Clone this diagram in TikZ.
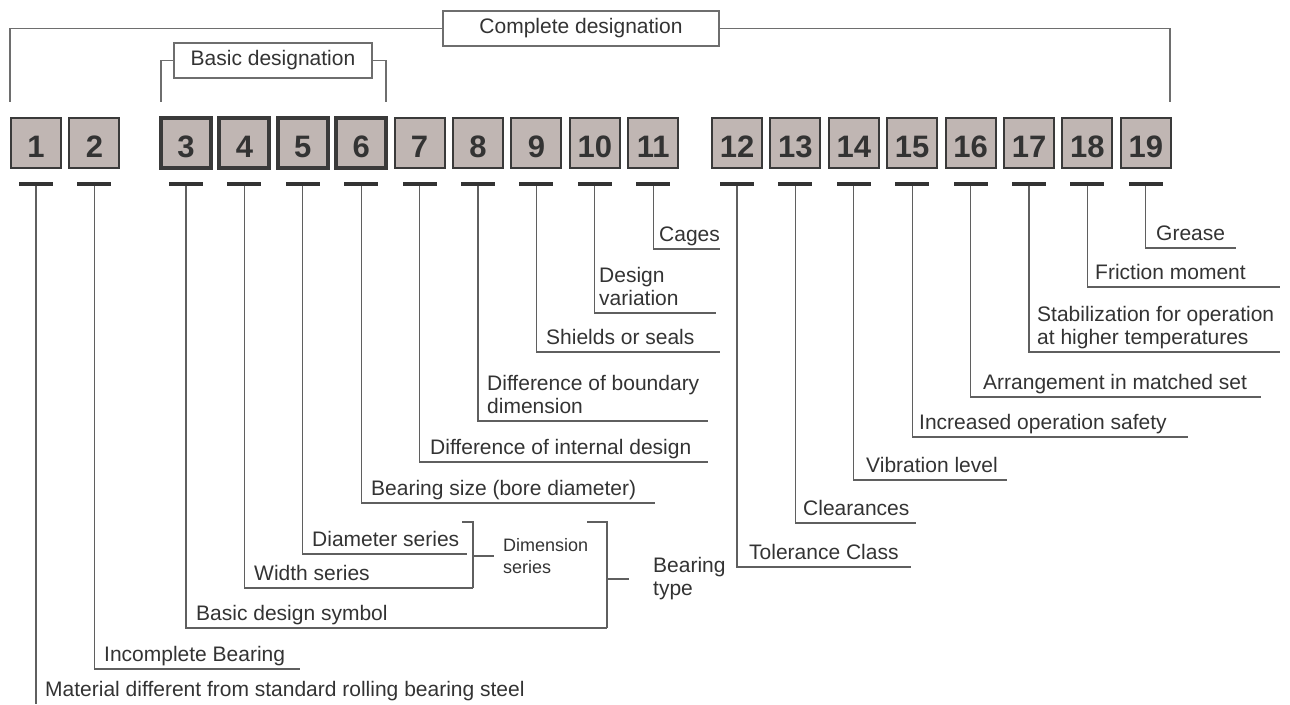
\documentclass[tikz,border=0pt]{standalone}
\usepackage{fontspec}
\setmainfont{Liberation Sans}
\definecolor{txt}{RGB}{51,51,51}
\definecolor{boxfill}{RGB}{192,182,179}
\definecolor{boxline}{RGB}{58,58,58}
\definecolor{tickc}{RGB}{51,51,51}
\definecolor{leadc}{RGB}{95,95,95}
\definecolor{brkc}{RGB}{110,110,110}
\begin{document}
\begin{tikzpicture}[x=1pt,y=-1pt,
  numbox/.style={draw=boxline, fill=boxfill, line width=2pt, minimum width=50pt, minimum height=50pt, inner sep=0pt, text=txt, font=\fontsize{31}{31}\selectfont\bfseries, text height=28pt, text depth=0pt},
  numboxthick/.style={numbox, line width=4pt},
  tickbar/.style={fill=tickc, minimum width=34pt, minimum height=3.5pt, inner sep=0pt, outer sep=0pt},
  lead/.style={draw=leadc, line width=1.2pt},
  brk/.style={draw=brkc, line width=1.5pt},
  titlebox/.style={draw=brkc, line width=1.3pt, fill=white, inner sep=0pt, minimum height=35pt, text=txt, font=\fontsize{21}{23}\selectfont},
  lbl/.style={anchor=south west, inner sep=0pt, text depth=0pt, text=txt, font=\fontsize{21}{23}\selectfont, align=left},
  lblsmall/.style={lbl, font=\fontsize{18}{22}\selectfont}
]
\useasboundingbox (0,0) rectangle (1290,704);

% title brackets
\node[titlebox, minimum width=276pt] (cd) at (581,28.5) {Complete designation};
\coordinate (cdl) at (10,102);
\coordinate (cdr) at (1170,102);
\draw[brk] (cd.west) -| (cdl);
\draw[brk] (cd.east) -| (cdr);
\node[titlebox, minimum width=198pt] (bd) at (273,60.5) {Basic designation};
\coordinate (bdl) at (161,102);
\coordinate (bdr) at (386,102);
\draw[brk] (bd.west) -| (bdl);
\draw[brk] (bd.east) -| (bdr);

% number boxes and ticks
\foreach \i/\x/\s in {1/36/numbox, 2/94.4/numbox, 3/186/numboxthick, 4/244.4/numboxthick, 5/302.8/numboxthick, 6/361.2/numboxthick, 7/419.6/numbox, 8/478/numbox, 9/536.4/numbox, 10/594.8/numbox, 11/653.2/numbox, 12/737/numbox, 13/795.4/numbox, 14/853.8/numbox, 15/912.2/numbox, 16/970.6/numbox, 17/1029/numbox, 18/1087.4/numbox, 19/1145.8/numbox}{
  \node[\s] (b\i) at (\x,143) {\i};
  \node[tickbar] (t\i) at (\x,184) {};
}

% leaders
\coordinate (e1) at (36,704);
\draw[lead] (t1.south) -- (e1);
\foreach \k/\xe/\ye in {2/300/669, 3/607/628, 4/473/588, 5/467/554, 6/655/503, 7/708/462, 8/708/421, 9/720/352, 10/716/313, 11/720/249, 12/911/567, 13/916/523, 14/1007/480, 15/1188/437, 16/1261/397, 17/1280/352, 18/1280/287, 19/1236/248}{
  \coordinate (e\k) at (\xe,\ye);
  \draw[lead] (t\k.south) |- (e\k);
}

% labels
\node[lbl] (l1) at (45,697) {Material different from standard rolling bearing steel};
\node[lbl] (l2) at (104,662) {Incomplete Bearing};
\node[lbl] (l3) at (196,621) {Basic design symbol};
\node[lbl] (l4) at (254,581) {Width series};
\node[lbl] (l5) at (312,547) {Diameter series};
\node[lbl] (l6) at (371,496) {Bearing size (bore diameter)};
\node[lbl] (l7) at (430,455) {Difference of internal design};
\node[lbl] (l8) at (487,414) {Difference of boundary\\dimension};
\node[lbl] (l9) at (546,345) {Shields or seals};
\node[lbl] (l10) at (599,306) {Design\\variation};
\node[lbl] (l11) at (659,242) {Cages};
\node[lbl] (l12) at (749,560) {Tolerance Class};
\node[lbl] (l13) at (803,516) {Clearances};
\node[lbl] (l14) at (866,473) {Vibration level};
\node[lbl] (l15) at (919,430) {Increased operation safety};
\node[lbl] (l16) at (983,390) {Arrangement in matched set};
\node[lbl] (l17) at (1037,345) {Stabilization for operation\\at higher temperatures};
\node[lbl] (l18) at (1095,280) {Friction moment};
\node[lbl] (l19) at (1156,241) {Grease};

% dimension series bracket
\node[lblsmall] (ds) at (503,574) {Dimension\\series};
\coordinate (dst) at (462,522);
\draw[lead] (e4) |- (dst);
\coordinate (dsm) at (473,556);
\coordinate (dsc) at (494,556);
\draw[lead] (dsm) -- (dsc);

% bearing type bracket
\node[lbl] (bt) at (653,596) {Bearing\\type};
\coordinate (btt) at (587,522);
\draw[lead] (e3) |- (btt);
\coordinate (btm) at (607,579);
\coordinate (btc) at (629,579);
\draw[lead] (btm) -- (btc);
\end{tikzpicture}
\end{document}
